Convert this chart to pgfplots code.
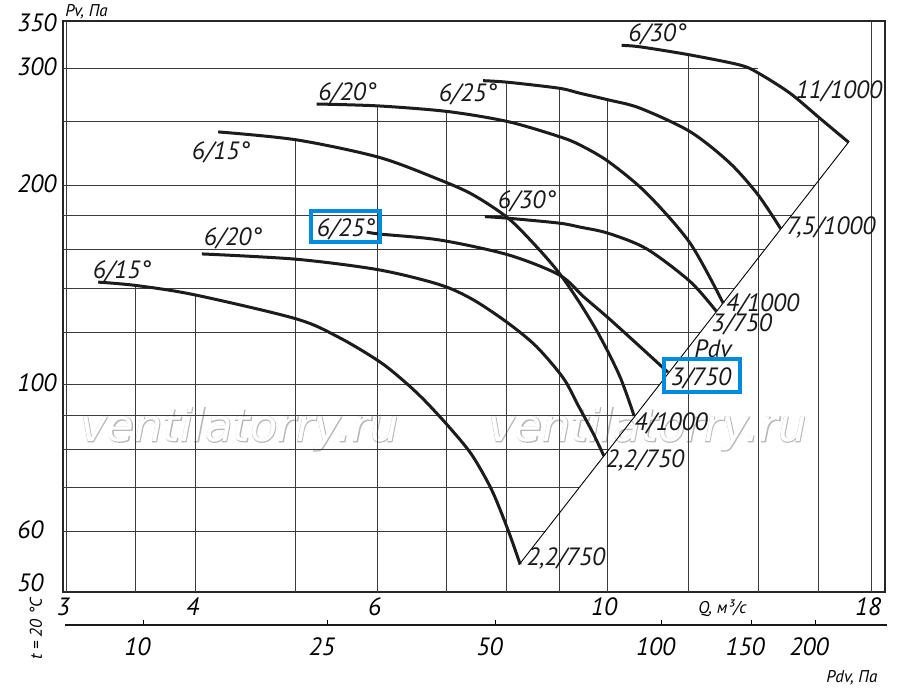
\documentclass[border=0pt]{standalone}
\usepackage{fontspec}
\setmainfont{PT Sans}
\newfontfamily\wmoutline{DejaVu Sans}[FakeBold=2.5]
\newfontfamily\wmfill{DejaVu Sans}
\usepackage{pgfplots}
\pgfplotsset{compat=1.18}
\definecolor{boxblue}{RGB}{0,140,222}
\definecolor{crv}{RGB}{28,28,28}
\definecolor{grd}{RGB}{60,60,60}
\definecolor{wm}{RGB}{185,185,185}
\newcommand\lbl{\fontsize{12.5}{14}\selectfont\itshape}
\newcommand\sml{\fontsize{8.5}{10}\selectfont\itshape}
\begin{document}
\begin{tikzpicture}
% watermark (behind everything)
\begin{scope}[x=0.5pt,y=-0.5pt,shift={(-31.35pt,296pt)}]
\foreach \wx in {80,488}{
\node[anchor=base west, inner sep=0pt, text=wm] at (\wx,441.7) {\wmoutline\itshape\fontsize{22.4}{24}\selectfont ventilatorry.ru};
\node[anchor=base west, inner sep=0pt, text=white] at (\wx,441.7) {\wmfill\itshape\fontsize{22.4}{24}\selectfont ventilatorry.ru};
}
\end{scope}
\begin{axis}[
  at={(0pt,0pt)}, anchor=south west,
  scale only axis, width=411.15pt, height=285.5pt,
  xmode=log, ymode=log,
  xmin=2.975, xmax=18.57, ymin=48.7, ymax=354,
  axis line style={line width=1pt, black!85},
  xtick={3,4,6,10,18}, xticklabels={3,4,6,10,18},
  ytick={50,60,100,200,300,350}, yticklabels={50,60,100,200,300,350},
  xminorticks=false, yminorticks=false,
  major tick length=0pt, minor tick length=0pt,
  /pgf/number format/assume math mode=true,
  tick label style={font=\lbl, inner sep=0pt},
  xticklabel style={anchor=base, yshift=-11.75pt, xshift=-1.5pt},
  yticklabel style={anchor=west, xshift=-22.85pt, yshift=1pt},
]
% ---- vertical grid lines
\addplot[grd, line width=0.5pt] coordinates {(3,48.7) (3,354)};
\addplot[grd, line width=0.5pt] coordinates {(3.5,48.7) (3.5,141.2)};
\addplot[grd, line width=0.5pt] coordinates {(4,48.7) (4,136.7)};
\addplot[grd, line width=0.5pt] coordinates {(5,48.7) (5,234.2)};
\addplot[grd, line width=0.5pt] coordinates {(6,48.7) (6,263.5)};
\addplot[grd, line width=0.5pt] coordinates {(7,48.7) (7,258.4)};
\addplot[grd, line width=0.5pt] coordinates {(8,48.7) (8,286.1)};
\addplot[grd, line width=0.5pt] coordinates {(9,48.7) (9,280.2)};
\addplot[grd, line width=0.5pt] coordinates {(10,48.7) (10,269.1)};
\addplot[grd, line width=0.5pt] coordinates {(12,48.7) (12,314.6)};
\addplot[grd, line width=0.5pt] coordinates {(14,48.7) (14,295.5)};
\addplot[grd, line width=0.5pt] coordinates {(16,48.7) (16,254)};
\addplot[grd, line width=0.5pt] coordinates {(18,48.7) (18,354)};
% ---- horizontal grid lines
\addplot[grd, line width=0.5pt] coordinates {(2.975,60) (8.70,60)};
\addplot[grd, line width=0.5pt] coordinates {(2.975,70) (9.40,70)};
\addplot[grd, line width=0.5pt] coordinates {(2.975,80) (10.05,80)};
\addplot[grd, line width=0.5pt] coordinates {(2.975,90) (10.66,90)};
\addplot[grd, line width=0.5pt] coordinates {(2.975,100) (11.23,100)};
\addplot[grd, line width=0.5pt] coordinates {(2.975,120) (12.31,120)};
\addplot[grd, line width=0.5pt] coordinates {(2.975,140) (13.29,140)};
\addplot[grd, line width=0.5pt] coordinates {(2.975,160) (14.21,160)};
\addplot[grd, line width=0.5pt] coordinates {(2.975,180) (15.07,180)};
\addplot[grd, line width=0.5pt] coordinates {(2.975,200) (15.89,200)};
\addplot[grd, line width=0.5pt] coordinates {(2.975,250) (16,250)};
\addplot[grd, line width=0.5pt] coordinates {(2.975,300) (14,300)};
% ---- Pdv line
\addplot[black, line width=0.45pt] coordinates {(8.22,53.54) (17.15,233.1)};
% ---- fan curves
% 6/15 lower -> 2,2/750
\addplot[crv, line width=1.5pt, smooth] coordinates {(3.22,142.9) (3.507,141.2) (3.994,136.7) (5.01,125.7) (5.516,117.7) (6.03,108.3) (6.375,101.0) (6.666,94.6) (7.047,86.1) (7.40,78.4) (7.736,69.4) (8.02,60.4) (8.24,53.6)};
% 6/20 lower -> 2,2/750
\addplot[crv, line width=1.5pt, smooth] coordinates {(4.056,157.6) (5.01,154.7) (6.02,149.1) (6.892,141.6) (7.422,134.4) (8.023,123.9) (8.546,114.2) (9.07,102.4) (9.369,93.3) (9.69,84.6) (9.93,78.1)};
% 6/25 lower -> 3/750
\addplot[crv, line width=1.5pt, smooth] coordinates {(5.855,170.1) (6.02,168.9) (6.892,165.4) (8.023,157.1) (8.99,146.5) (9.486,135.9) (10.03,126.1) (10.76,114.2) (11.45,104.5)};
% 6/30 lower -> 3/750
\addplot[crv, line width=1.5pt, smooth] coordinates {(7.618,179.4) (8.023,178.4) (8.99,175.4) (9.413,173.0) (10.03,169.3) (10.92,160.4) (12.03,143.2) (12.76,129.0)};
% 6/15 upper -> 4/1000
\addplot[crv, line width=1.5pt, smooth] coordinates {(4.206,240.8) (5.01,234.2) (6.02,220.4) (6.892,203.8) (7.422,193.5) (8.023,178.4) (8.546,161.6) (8.99,147.4) (9.413,132.8) (9.842,118.3) (10.29,102.9) (10.62,89.8)};
% 6/20 upper -> 4/1000
\addplot[crv, line width=1.5pt, smooth] coordinates {(5.237,265.3) (6.02,263.5) (7.02,258.4) (8.023,249.5) (8.99,236.9) (9.413,230.1) (10.03,217.2) (10.92,194.6) (12.03,163.6) (12.95,132.8)};
% 6/25 upper -> 7,5/1000
\addplot[crv, line width=1.5pt, smooth] coordinates {(7.589,287.7) (8.023,286.1) (8.99,280.2) (9.413,275.4) (10.03,269.1) (10.76,261.5) (12.03,241.0) (13.14,216.2) (14.0,193.4) (14.72,172)};
% 6/30 upper -> 11/1000
\addplot[crv, line width=1.5pt, smooth] coordinates {(10.33,325.2) (10.76,323.6) (12.03,314.6) (13.44,303.8) (14.0,295.5) (15.03,275.4) (16.06,252.5) (17.11,232.5)};
\end{axis}
% secondary Pdv scale
\begin{axis}[
  at={(1.15pt,-16.5pt)}, anchor=south west,
  scale only axis, width=410.85pt, height=10pt,
  xmode=log, xmin=2.990, xmax=18.64, ymin=0, ymax=1,
  axis x line*=bottom, axis y line=none,
  axis line style={-, line width=0.85pt, black!90},
  xtick={3.56,5.37,7.80,11.29,13.78,15.89},
  xticklabels={10,25,50,100,150,200},
  xminorticks=false,
  tick align=inside, major tick length=2.5pt,
  tick style={black, line width=0.5pt},
  xticklabel style={font=\lbl, anchor=base, inner sep=0pt, yshift=-15.35pt, xshift=-3pt},
]
\addplot[draw=none] coordinates {(5,0.5)};
\end{axis}
% labels in pixel coordinates
\begin{scope}[x=0.5pt,y=-0.5pt,shift={(-31.35pt,296pt)}]
\tikzset{L/.style={anchor=base, inner sep=0pt, font=\lbl, text=black!90}}
\node[L] at (122,278) {6/15°};
\node[L] at (233,245) {6/20°};
\node[L] at (346,236) {6/25°};
\node[L] at (221,159) {6/15°};
\node[L] at (347.5,100) {6/20°};
\node[L] at (468,101.5) {6/25°};
\node[L] at (527,208.3) {6/30°};
\node[L] at (657.5,41.5) {6/30°};
\node[L] at (839,98.3) {11/1000};
\node[L] at (831,234) {7,5/1000};
\node[L] at (762.5,311) {4/1000};
\node[L] at (741.7,331.5) {3/750};
\node[L] at (713,357) {Pdv};
\node[L] at (701,385) {3/750};
\node[L] at (671,430.5) {4/1000};
\node[L] at (645,467) {2,2/750};
\node[L] at (566,565) {2,2/750};
\draw[boxblue, line width=2pt] (311.3,211.3) rectangle (380.3,242.3);
\draw[boxblue, line width=2pt] (663.7,359.3) rectangle (739.7,392);
\node[anchor=base west, inner sep=0pt, font=\sml] at (65,16.7) {Pv, Па};
\node[anchor=base west, inner sep=0pt, font=\sml] at (698,613) {Q, м³/с};
\node[anchor=base west, inner sep=0pt, font=\sml] at (826,682) {Pdv, Па};
\node[anchor=base west, inner sep=0pt, font=\sml, rotate=90] at (42,660) {t = 20 °C};
\end{scope}
\pgfresetboundingbox
\path[use as bounding box] (-31.35pt,-50.5pt) rectangle (418.65pt,296pt);
\end{tikzpicture}
\end{document}
